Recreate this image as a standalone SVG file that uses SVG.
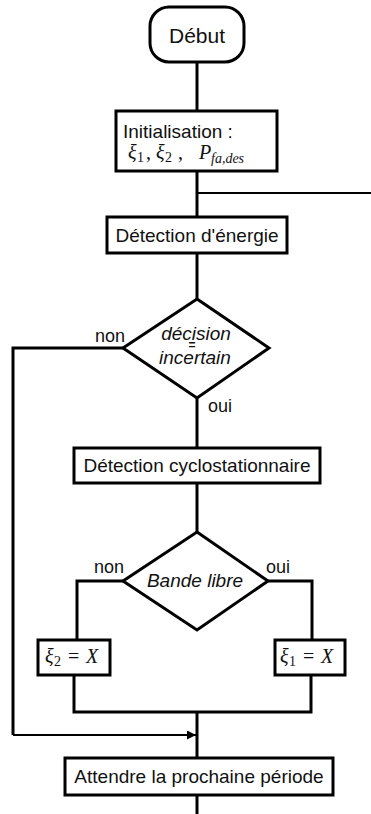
<svg xmlns="http://www.w3.org/2000/svg" width="371" height="814" viewBox="0 0 371 814">
<defs>
<style>
.box{fill:#fff;stroke:#000;stroke-width:3}
.ln{fill:none;stroke:#000;stroke-width:3}
.thin{fill:none;stroke:#000;stroke-width:2}
.t{font-family:"Liberation Sans",Arial,sans-serif;font-size:19px;fill:#111}
.ti{font-family:"Liberation Sans",Arial,sans-serif;font-size:19px;font-style:italic;fill:#111}
.lb{font-family:"Liberation Sans",Arial,sans-serif;font-size:18px;fill:#111}
.m{font-family:"Liberation Serif","Times New Roman",serif;font-size:20px;fill:#111}
.mi{font-style:italic}
.sub{font-size:14px}
</style>
<marker id="arr" viewBox="0 0 10 10" refX="10" refY="5" markerWidth="9" markerHeight="9" markerUnits="userSpaceOnUse" orient="auto">
<path d="M0,0 L10,5 L0,10 z" fill="#000"/>
</marker>
</defs>
<g id="connectors">
<line class="ln" x1="197" y1="62" x2="197" y2="111"/>
<line class="ln" x1="197" y1="171" x2="197" y2="217"/>
<line class="thin" x1="197" y1="193" x2="371" y2="193"/>
<line class="ln" x1="197" y1="253" x2="197" y2="299"/>
<polyline class="ln" points="123,348 13,348 13,735"/>
<line class="thin" x1="13" y1="735" x2="196" y2="735" marker-end="url(#arr)"/>
<line class="ln" x1="197" y1="398" x2="197" y2="448"/>
<line class="ln" x1="197" y1="483" x2="197" y2="532"/>
<polyline class="ln" points="123,581 77,581 77,640"/>
<polyline class="ln" points="268,581 312,581 312,640"/>
<polyline class="ln" points="74,675 74,712 311,712 311,675"/>
<line class="ln" x1="197" y1="712" x2="197" y2="758"/>
<line class="ln" x1="197" y1="795" x2="197" y2="814"/>
</g>
<g id="labels">
<text class="lb" x="110" y="342" text-anchor="middle">non</text>
<text class="lb" x="220" y="412" text-anchor="middle">oui</text>
<text class="lb" x="109" y="573" text-anchor="middle">non</text>
<text class="lb" x="278" y="573" text-anchor="middle">oui</text>
</g>
<g id="debut">
<rect class="box" x="150" y="7" width="94" height="55" rx="19" ry="19"/>
<text class="t" x="197" y="43" text-anchor="middle" style="font-size:21px">Début</text>
</g>
<g id="init">
<rect class="box" x="116" y="111" width="161" height="60"/>
<text class="t" x="123" y="138">Initialisation :</text>
<text class="m" y="159"><tspan class="mi" x="128">ξ</tspan><tspan class="sub" x="137" dy="3">1</tspan><tspan x="146" dy="-3">,</tspan><tspan class="mi" x="156">ξ</tspan><tspan class="sub" x="165" dy="3">2</tspan><tspan x="178" dy="-3">,</tspan><tspan class="mi" x="199">P</tspan><tspan class="mi sub" x="211" dy="4">fa,des</tspan></text>
</g>
<g id="energie">
<rect class="box" x="107" y="217" width="180" height="36"/>
<text class="t" x="197" y="242" text-anchor="middle">Détection d'énergie</text>
</g>
<g id="decision1">
<polygon class="box" points="197,299 269,348 197,398 123,348"/>
<text class="ti" x="196" y="340" text-anchor="middle">décision</text>
<text class="t" x="192" y="349" text-anchor="middle" style="font-size:12px;font-weight:bold">=</text>
<text class="ti" x="195" y="364" text-anchor="middle">incertain</text>
</g>
<g id="cyclo">
<rect class="box" x="74" y="448" width="246" height="35"/>
<text class="t" x="197" y="472" text-anchor="middle">Détection cyclostationnaire</text>
</g>
<g id="decision2">
<polygon class="box" points="197,532 268,581 197,630 123,581"/>
<text class="ti" x="195" y="587" text-anchor="middle">Bande libre</text>
</g>
<g id="xi2">
<rect class="box" x="38" y="640" width="72" height="35"/>
<text class="m" y="663"><tspan class="mi" x="45">ξ</tspan><tspan class="sub" x="54" dy="3">2</tspan><tspan x="68" dy="-3">=</tspan><tspan class="mi" x="86">X</tspan></text>
</g>
<g id="xi1">
<rect class="box" x="275" y="640" width="70" height="35"/>
<text class="m" y="663"><tspan class="mi" x="280">ξ</tspan><tspan class="sub" x="289" dy="3">1</tspan><tspan x="303" dy="-3">=</tspan><tspan class="mi" x="321">X</tspan></text>
</g>
<g id="attendre">
<rect class="box" x="65" y="758" width="268" height="37"/>
<text class="t" x="199" y="783" text-anchor="middle">Attendre la prochaine période</text>
</g>
</svg>
